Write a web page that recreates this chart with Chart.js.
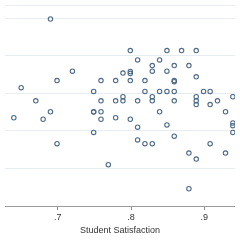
<!DOCTYPE html>
<html>
<head>
<meta charset="utf-8">
<script src="https://cdn.jsdelivr.net/npm/chart.js@4/dist/chart.umd.min.js"></script>
<style>
  html, body { margin: 0; padding: 0; background: #ffffff; }
  #wrap { width: 240px; height: 240px; position: relative; }
</style>
</head>
<body>
<div id="wrap"><canvas id="c" width="240" height="240"></canvas></div>
<script>
// Student satisfaction (x) and outcome (y, unlabelled axis)
const satisfaction = [
  0.690, 0.720, 0.699, 0.759, 0.779, 0.650, 0.749, 0.670, 0.759, 0.779,
  0.640, 0.690, 0.749, 0.749, 0.759, 0.680, 0.759, 0.779, 0.699, 0.749,
  0.769, 0.799, 0.809, 0.829, 0.789, 0.799, 0.799, 0.829, 0.799, 0.819,
  0.819, 0.789, 0.789, 0.809, 0.829, 0.829, 0.849, 0.869, 0.889, 0.839,
  0.859, 0.879, 0.849, 0.859, 0.859, 0.889, 0.839, 0.849, 0.859, 0.899,
  0.908, 0.859, 0.889, 0.889, 0.889, 0.908, 0.918, 0.939, 0.839, 0.929,
  0.799, 0.809, 0.809, 0.819, 0.829, 0.849, 0.859, 0.879, 0.889, 0.908,
  0.929, 0.939, 0.939, 0.939, 0.879
];
const outcome = [
  4.98, 3.59, 3.34, 3.34, 3.34, 3.15, 3.05, 2.80, 2.80, 2.80,
  2.35, 2.51, 2.51, 2.50, 2.51, 2.31, 2.31, 2.35, 1.66, 1.96,
  1.10, 4.14, 3.89, 3.74, 3.54, 3.58, 3.53, 3.59, 3.34, 3.34,
  3.05, 2.91, 2.80, 2.80, 2.91, 2.80, 4.14, 4.14, 4.14, 3.89,
  3.74, 3.74, 3.59, 3.34, 3.31, 3.44, 3.05, 3.05, 3.05, 3.05,
  3.05, 2.80, 2.91, 2.80, 2.70, 2.70, 2.80, 2.91, 2.51, 2.51,
  2.31, 2.10, 1.76, 1.66, 1.66, 2.16, 1.86, 1.41, 1.25, 1.66,
  1.41, 2.21, 2.14, 1.96, 0.46
];
const xTickValues = [0.7, 0.8, 0.9];
const xTickLabels = ['.7', '.8', '.9'];
const yGridValues = [0, 1, 2, 3, 4, 5, 5.35];
const xTitle = 'Student Satisfaction';

const points = satisfaction.map((x, i) => ({ x: x, y: outcome[i] }));

new Chart(document.getElementById('c'), {
  type: 'scatter',
  data: {
    datasets: [{
      data: points,
      pointStyle: 'circle',
      pointRadius: 2.2,
      pointBorderWidth: 1.1,
      pointBorderColor: '#4d6a88',
      pointBackgroundColor: 'rgba(255,255,255,0)'
    }]
  },
  options: {
    responsive: false,
    animation: false,
    devicePixelRatio: 1,
    layout: { padding: 0 },
    plugins: { legend: { display: false }, tooltip: { enabled: false } },
    scales: {
      x: {
        type: 'linear',
        min: 0.6281,
        max: 0.9418,
        afterBuildTicks: (s) => { s.ticks = xTickValues.map(v => ({ value: v })); },
        ticks: {
          autoSkip: false,
          maxRotation: 0,
          padding: 2,
          color: '#333333',
          font: { family: 'Liberation Sans', size: 9 },
          callback: (v) => xTickLabels[xTickValues.indexOf(v)]
        },
        grid: { display: true, drawOnChartArea: false, drawTicks: true, tickLength: 4, color: '#8a8a8a' },
        border: { display: true, color: '#9a9a9a', width: 1 },
        title: {
          display: true,
          text: xTitle,
          color: '#333333',
          font: { family: 'Liberation Sans', size: 9 },
          padding: { top: 0, bottom: 4.4 }
        }
      },
      y: {
        type: 'linear',
        min: 0,
        max: 5.35,
        afterBuildTicks: (s) => { s.ticks = yGridValues.map(v => ({ value: v })); },
        afterFit: (s) => { s.width = 0; },
        ticks: { display: false },
        grid: { display: true, drawTicks: false, color: '#e6ecef', lineWidth: 1 },
        border: { display: false }
      }
    }
  }
});
</script>
</body>
</html>
